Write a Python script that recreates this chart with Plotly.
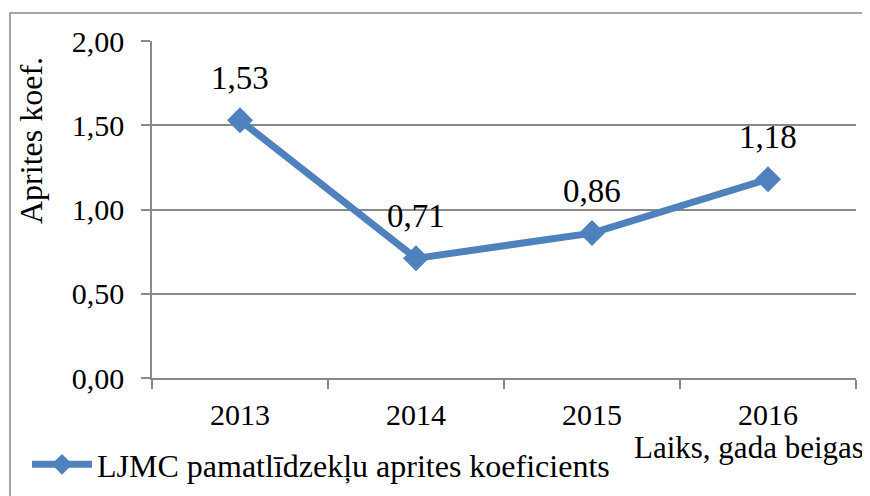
import plotly.graph_objects as go

years = ["2013", "2014", "2015", "2016"]
values = [1.53, 0.71, 0.86, 1.18]
series_name = "LJMC pamatlīdzekļu aprites koeficients"
y_ticks = [0, 0.5, 1.0, 1.5, 2.0]

FONT = "Liberation Serif, Times New Roman, serif"
FS = 30
FS_BIG = 32
FS_LBL = 33
BLUE = "#4F81BD"
GRID = "#898989"

labels = [f"{v:.2f}".replace(".", ",") for v in values]

fig = go.Figure()
fig.add_trace(go.Scatter(
    x=years, y=values, name=series_name,
    mode="lines+markers",
    line=dict(color=BLUE, width=7),
    marker=dict(symbol="diamond", size=20, color=BLUE),
    cliponaxis=False,
))

# page has an 8px body margin: work in screen coordinates and shift
OFF = 8
W, H = 862, 488
L, R, T, B = 152 - OFF, 862 - (856 - OFF), 41 - OFF, 488 - (378 - OFF)
pw, ph = W - L - R, H - T - B

def px(x):
    return (x - OFF - L) / pw

def py(y):
    return (H - B - (y - OFF)) / ph

annotations = [
    dict(x=i, y=yv, text=t, xref="x", yref="y", showarrow=False,
         yshift=42, xanchor="center", yanchor="middle",
         font=dict(family=FONT, size=FS_LBL, color="black"))
    for i, (yv, t) in enumerate(zip(values, labels))
]
annotations += [
    dict(text="Aprites koef.", xref="paper", yref="paper", x=px(31), y=py(141),
         textangle=-90, showarrow=False, xanchor="center", yanchor="middle",
         font=dict(family=FONT, size=FS_BIG)),
    dict(text="Laiks, gada beigas", xref="paper", yref="paper", x=px(865), y=py(447),
         showarrow=False, xanchor="right", yanchor="middle", borderpad=0,
         font=dict(family=FONT, size=31)),
]

fig.update_layout(
    width=W, height=H,
    margin=dict(l=L, r=R, t=T, b=B, autoexpand=False),
    paper_bgcolor="white", plot_bgcolor="white",
    separators=", ",
    font=dict(family=FONT, size=FS, color="black"),
    showlegend=True,
    legend=dict(x=px(27), y=py(437), xanchor="left", yanchor="top",
                orientation="h", itemwidth=60, bgcolor="rgba(0,0,0,0)",
                font=dict(family=FONT, size=FS_BIG, color="black")),
    xaxis=dict(type="category", showgrid=False, showline=True, linecolor=GRID, linewidth=1.5,
               ticks="outside", ticklen=9, tickcolor=GRID, tickwidth=1.5,
               tickson="boundaries", range=[-0.5, 3.5], automargin=False,
               ticklabelstandoff=9,
               tickfont=dict(family=FONT, size=FS)),
    yaxis=dict(range=[0, 2], tickvals=y_ticks, tickformat=".2f",
               showgrid=True, gridcolor=GRID, gridwidth=1.5,
               showline=True, linecolor=GRID, linewidth=1.5,
               ticks="outside", ticklen=9, tickcolor=GRID, tickwidth=1.5,
               ticklabelstandoff=11,
               zeroline=False, automargin=False, tickfont=dict(family=FONT, size=FS)),
    shapes=[dict(type="rect", xref="paper", yref="paper",
                 x0=px(10), x1=px(885), y0=py(510), y1=py(13),
                 line=dict(color="#8a8a8a", width=1.5), fillcolor="rgba(0,0,0,0)", layer="below")],
    annotations=annotations,
)

fig.write_html("out.html")
